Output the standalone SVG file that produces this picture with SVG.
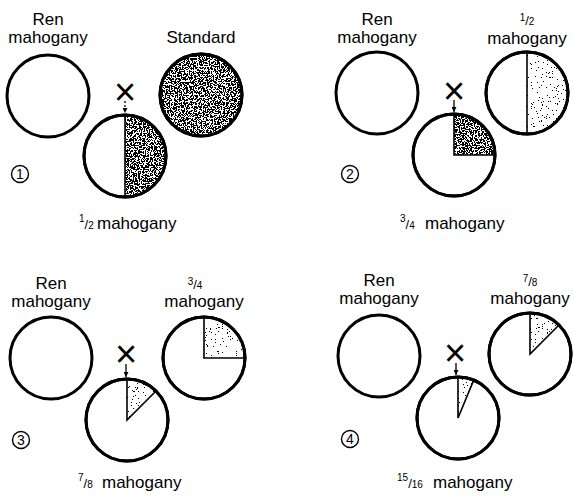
<svg xmlns="http://www.w3.org/2000/svg" width="574" height="497" viewBox="0 0 574 497">
<defs>
<style>
text{font-family:"Liberation Sans",Arial,sans-serif;fill:#000}
.lbl{font-size:17px;text-anchor:middle}
.frac{font-size:10px}
.sl{font-size:13px}
.bot{font-size:17px}
.big{fill:#fff;stroke:#000;stroke-width:3}
.ol{fill:none;stroke:#000;stroke-width:3}
.edge{fill:none;stroke:#000;stroke-width:1.6}
.num{fill:none;stroke:#000;stroke-width:1.4}
.numt{font-size:14px;text-anchor:middle}
.cross{font-size:38px;text-anchor:middle}
.arr{stroke:#000;stroke-width:1.3;fill:none}
</style>
<filter id="dark" x="0" y="0" width="1" height="1">
<feTurbulence type="fractalNoise" baseFrequency="0.75" numOctaves="2" seed="4" result="n"/>
<feColorMatrix in="n" type="matrix" values="0 0 0 0 0 0 0 0 0 0 0 0 0 0 0 1 0 0 0 0" result="a"/>
<feComponentTransfer in="a" result="t"><feFuncA type="discrete" tableValues="0 0 0 0 0 1 1 1 1 1"/></feComponentTransfer>
<feComposite in="t" in2="SourceAlpha" operator="in"/>
</filter>
<filter id="light" x="0" y="0" width="1" height="1">
<feTurbulence type="fractalNoise" baseFrequency="0.8" numOctaves="2" seed="9" result="n"/>
<feColorMatrix in="n" type="matrix" values="0 0 0 0 0 0 0 0 0 0 0 0 0 0 0 1 0 0 0 0" result="a"/>
<feComponentTransfer in="a" result="t"><feFuncA type="discrete" tableValues="0 0 0 0 0 0 0 1 1 1"/></feComponentTransfer>
<feComposite in="t" in2="SourceAlpha" operator="in"/>
</filter>
<marker id="ah" viewBox="0 0 6 6" refX="6" refY="3" markerWidth="5" markerHeight="5" orient="auto" markerUnits="userSpaceOnUse">
<path d="M0,0 L6,3 L0,6 z" fill="#000"/>
</marker>
</defs>

<!-- Panel 1 -->
<g id="p1-ren">
<text class="lbl" x="48" y="25">Ren</text>
<text class="lbl" x="48" y="43">mahogany</text>
<circle class="big" cx="48" cy="96" r="41"/>
</g>
<g id="p1-standard">
<text class="lbl" x="201" y="43">Standard</text>
<circle class="big" cx="201" cy="95" r="41"/>
<circle cx="201" cy="95" r="40" fill="#000" filter="url(#dark)"/>
<circle cx="201" cy="95" r="41" class="ol"/>
</g>
<g id="p1-cross"><text class="cross" x="125" y="105">×</text></g>
<g id="p1-offspring">
<circle class="big" cx="125" cy="156" r="41"/>
<path d="M125,115 A41,41 0 0 1 125,197 Z" fill="#000" filter="url(#dark)"/>
<line class="edge" x1="125" y1="115" x2="125" y2="197"/>
<circle cx="125" cy="156" r="41" class="ol"/>
<text class="bot" x="79" y="229"><tspan class="frac" dy="-7">1</tspan><tspan class="sl" dy="7">/</tspan><tspan class="frac">2</tspan><tspan x="97">mahogany</tspan></text>
</g>
<g id="p1-num"><circle class="num" cx="20" cy="174" r="8.5"/><text class="numt" x="20" y="179">1</text></g>

<!-- Panel 2 -->
<g id="p2-ren">
<text class="lbl" x="377" y="25">Ren</text>
<text class="lbl" x="377" y="43">mahogany</text>
<circle class="big" cx="377" cy="93" r="41"/>
</g>
<g id="p2-half">
<text class="lbl" x="527" y="25"><tspan class="frac" dy="-4">1</tspan><tspan class="sl" dy="4">/</tspan><tspan class="frac">2</tspan></text>
<text class="lbl" x="527" y="44">mahogany</text>
<circle class="big" cx="527" cy="93" r="41"/>
<path d="M527,52 A41,41 0 0 1 527,134 Z" fill="#000" filter="url(#light)"/>
<line class="edge" x1="527" y1="52" x2="527" y2="134"/>
<circle cx="527" cy="93" r="41" class="ol"/>
</g>
<g id="p2-cross"><text class="cross" x="454" y="104">×</text></g>
<g id="p2-offspring">
<circle class="big" cx="454" cy="155" r="41"/>
<path d="M454,155 L454,114 A41,41 0 0 1 495,155 Z" fill="#000" filter="url(#dark)"/>
<path class="edge" d="M454,114 L454,155 L495,155"/>
<circle cx="454" cy="155" r="41" class="ol"/>
<text class="bot" x="400" y="229"><tspan class="frac" dy="-7">3</tspan><tspan class="sl" dy="7">/</tspan><tspan class="frac">4</tspan><tspan x="425">mahogany</tspan></text>
</g>
<g id="p2-num"><circle class="num" cx="350" cy="174" r="8.5"/><text class="numt" x="350" y="179">2</text></g>

<!-- Panel 3 -->
<g id="p3-ren">
<text class="lbl" x="51" y="289">Ren</text>
<text class="lbl" x="51" y="307">mahogany</text>
<circle class="big" cx="51" cy="358" r="41"/>
</g>
<g id="p3-threequarter">
<text class="lbl" x="195" y="289"><tspan class="frac" dy="-4">3</tspan><tspan class="sl" dy="4">/</tspan><tspan class="frac">4</tspan></text>
<text class="lbl" x="204" y="307">mahogany</text>
<circle class="big" cx="204" cy="358" r="41"/>
<path d="M204,358 L204,317 A41,41 0 0 1 245,358 Z" fill="#000" filter="url(#light)"/>
<path class="edge" d="M204,317 L204,358 L245,358"/>
<circle cx="204" cy="358" r="41" class="ol"/>
</g>
<g id="p3-cross"><text class="cross" x="126" y="367">×</text></g>
<g id="p3-offspring">
<circle class="big" cx="127" cy="420" r="41"/>
<path d="M127,420 L127,379 A41,41 0 0 1 156,391 Z" fill="#000" filter="url(#light)"/>
<path class="edge" d="M127,379 L127,420 L156,391"/>
<circle cx="127" cy="420" r="41" class="ol"/>
<text class="bot" x="78" y="488"><tspan class="frac" dy="-7">7</tspan><tspan class="sl" dy="7">/</tspan><tspan class="frac">8</tspan><tspan x="102">mahogany</tspan></text>
</g>
<g id="p3-num"><circle class="num" cx="21" cy="440" r="8.5"/><text class="numt" x="21" y="445">3</text></g>

<!-- Panel 4 -->
<g id="p4-ren">
<text class="lbl" x="379" y="286">Ren</text>
<text class="lbl" x="379" y="304">mahogany</text>
<circle class="big" cx="379" cy="356" r="41"/>
</g>
<g id="p4-seveneighths">
<text class="lbl" x="530" y="286"><tspan class="frac" dy="-4">7</tspan><tspan class="sl" dy="4">/</tspan><tspan class="frac">8</tspan></text>
<text class="lbl" x="530" y="304">mahogany</text>
<circle class="big" cx="530" cy="354" r="41"/>
<path d="M530,354 L530,313 A41,41 0 0 1 559,325 Z" fill="#000" filter="url(#light)"/>
<path class="edge" d="M530,313 L530,354 L559,325"/>
<circle cx="530" cy="354" r="41" class="ol"/>
</g>
<g id="p4-cross"><text class="cross" x="455" y="366">×</text></g>
<g id="p4-offspring">
<circle class="big" cx="458" cy="418" r="41"/>
<path d="M458,418 L458,377 A41,41 0 0 1 473.7,380.1 Z" fill="#000" filter="url(#light)"/>
<path class="edge" d="M458,377 L458,418 L473.7,380.1"/>
<circle cx="458" cy="418" r="41" class="ol"/>
<text class="bot" x="397" y="488"><tspan class="frac" dy="-7">15</tspan><tspan class="sl" dy="7">/</tspan><tspan class="frac">16</tspan><tspan x="433">mahogany</tspan></text>
</g>
<g id="p4-num"><circle class="num" cx="350" cy="439" r="8.5"/><text class="numt" x="350" y="444">4</text></g>

<g id="connectors">
<line class="arr" x1="125" y1="101" x2="125" y2="113" stroke-dasharray="2 2" marker-end="url(#ah)"/>
<line class="arr" x1="454" y1="100" x2="454" y2="112" marker-end="url(#ah)"/>
<line class="arr" x1="126" y1="364" x2="126" y2="377" marker-end="url(#ah)"/>
<line class="arr" x1="456" y1="363" x2="456" y2="375" marker-end="url(#ah)"/>
</g>
</svg>
